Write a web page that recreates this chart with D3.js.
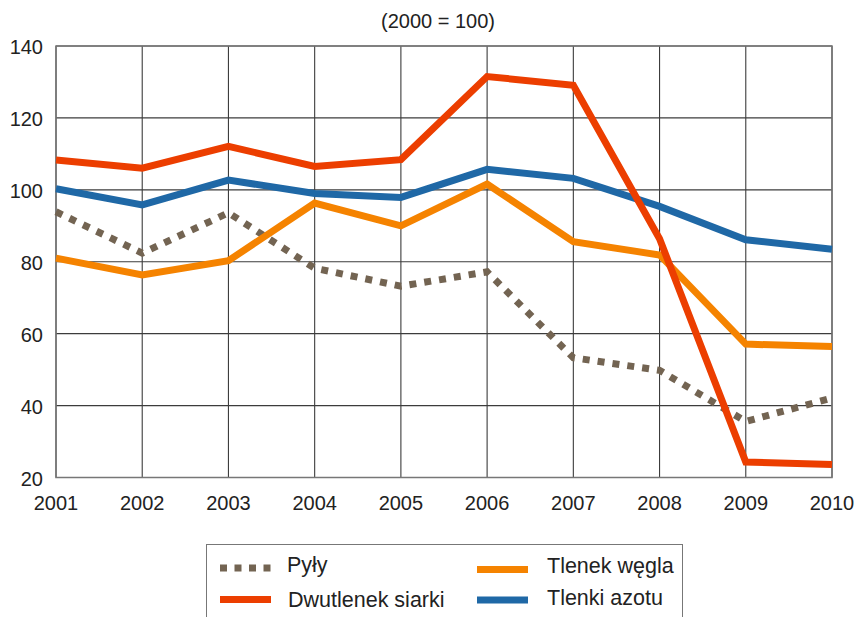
<!DOCTYPE html>
<html>
<head>
<meta charset="utf-8">
<script src="https://cdn.jsdelivr.net/npm/d3@7"></script>
<style>
  body { margin: 0; background: #fff; }
  svg { display: block; }
  text { font-family: "Liberation Sans", Arial, sans-serif; fill: #222; }
</style>
</head>
<body>
<svg id="chart" width="858" height="617"></svg>
<script>
const years = [2001, 2002, 2003, 2004, 2005, 2006, 2007, 2008, 2009, 2010];
const yTicks = [20, 40, 60, 80, 100, 120, 140];
const pyly = [93.9, 82.4, 93.6, 78.2, 73.2, 77.2, 53.3, 49.8, 35.6, 42.1];
const dwutlenekSiarki = [108.3, 106.0, 112.1, 106.5, 108.4, 131.5, 129.1, 86.4, 24.3, 23.6];
const tlenekWegla = [81.0, 76.3, 80.3, 96.3, 90.0, 101.6, 85.6, 81.9, 57.1, 56.4];
const tlenkiAzotu = [100.3, 95.8, 102.7, 99.0, 97.9, 105.7, 103.2, 95.4, 86.1, 83.5];

const seriesNames = ["Pyły", "Dwutlenek siarki", "Tlenek węgla", "Tlenki azotu"];
const seriesColors = {"Pyły": "#736452", "Dwutlenek siarki": "#ec3e00", "Tlenek węgla": "#f58300", "Tlenki azotu": "#1f68a6"};
const seriesData = {"Pyły": pyly, "Dwutlenek siarki": dwutlenekSiarki, "Tlenek węgla": tlenekWegla, "Tlenki azotu": tlenkiAzotu};

const svg = d3.select("#chart");
const pLeft = 56, pRight = 832, pTop = 46, pBottom = 477.5;

const x = d3.scaleLinear().domain([2001, 2010]).range([pLeft, pRight]);
const y = d3.scaleLinear().domain([20, 140]).range([pBottom, pTop]);

// title
svg.append("text").attr("x", 438).attr("y", 28).attr("text-anchor", "middle")
  .style("font-size", "20px").text("(2000 = 100)");

// grid
const grid = svg.append("g");
grid.selectAll("line.h").data(yTicks).join("line").attr("class", "h")
  .attr("x1", pLeft).attr("x2", pRight)
  .attr("y1", d => y(d)).attr("y2", d => y(d))
  .attr("stroke", "#3c3c3c").attr("stroke-width", 1.1);
grid.selectAll("line.v").data(years).join("line").attr("class", "v")
  .attr("y1", pTop).attr("y2", pBottom)
  .attr("x1", d => x(d)).attr("x2", d => x(d))
  .attr("stroke", "#3c3c3c").attr("stroke-width", 1.1);
grid.append("rect").attr("x", pLeft).attr("y", pTop)
  .attr("width", pRight - pLeft).attr("height", pBottom - pTop)
  .attr("fill", "none").attr("stroke", "#777").attr("stroke-width", 1.5);

// y axis labels
svg.append("g").selectAll("text").data(yTicks).join("text")
  .attr("x", 43).attr("y", d => y(d) + 8).attr("text-anchor", "end")
  .style("font-size", "20px").text(d => d);

// x axis labels
svg.append("g").selectAll("text").data(years).join("text")
  .attr("x", d => x(d)).attr("y", pBottom + 32).attr("text-anchor", "middle")
  .style("font-size", "20px").text(d => d);

// lines
const line = d3.line().x((d, i) => x(years[i])).y(d => y(d));
const drawOrder = ["Pyły", "Tlenek węgla", "Tlenki azotu", "Dwutlenek siarki"];
drawOrder.forEach(name => {
  svg.append("path").datum(seriesData[name])
    .attr("d", line)
    .attr("fill", "none")
    .attr("stroke", seriesColors[name])
    .attr("stroke-width", 7)
    .attr("stroke-linejoin", "miter")
    .attr("stroke-linecap", "butt")
    .attr("stroke-dasharray", name === "Pyły" ? "7,8" : null);
});

// legend
const lg = svg.append("g");
lg.append("rect").attr("x", 206.5).attr("y", 544.5).attr("width", 476).attr("height", 100)
  .attr("fill", "#fff").attr("stroke", "#777").attr("stroke-width", 1);
const legendItems = [
  {name: "Pyły", sx: 220, sy: 568, tx: 287, ty: 572},
  {name: "Dwutlenek siarki", sx: 220, sy: 599.5, tx: 288, ty: 607},
  {name: "Tlenek węgla", sx: 477, sy: 569.5, tx: 547, ty: 573},
  {name: "Tlenki azotu", sx: 477, sy: 600, tx: 547, ty: 605}
];
legendItems.forEach(it => {
  lg.append("line").attr("x1", it.sx).attr("x2", it.sx + 51)
    .attr("y1", it.sy).attr("y2", it.sy)
    .attr("stroke", seriesColors[it.name]).attr("stroke-width", 7)
    .attr("stroke-dasharray", it.name === "Pyły" ? "7,7.5" : null);
  lg.append("text").attr("x", it.tx).attr("y", it.ty)
    .style("font-size", "21.5px").text(it.name);
});
</script>
</body>
</html>
